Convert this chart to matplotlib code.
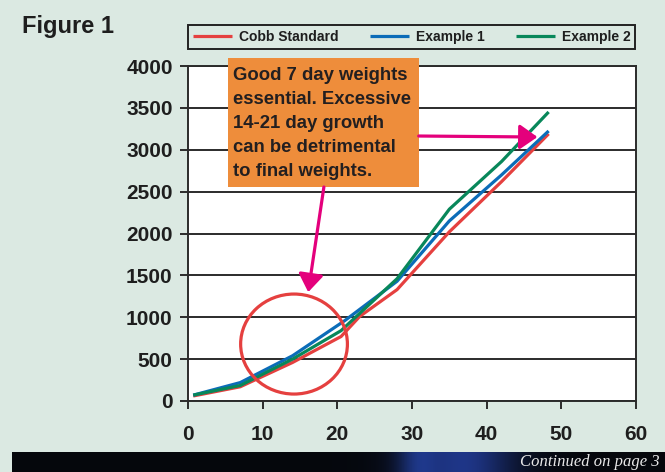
import numpy as np
import matplotlib
matplotlib.use("Agg")
import matplotlib.pyplot as plt
from matplotlib.patches import Ellipse, Rectangle, FancyArrowPatch

plt.rcParams['font.family'] = ['Liberation Sans', 'DejaVu Sans']

# ---- data ----
cobb_days = [0.7, 7, 14, 20.5, 23, 28, 35, 42, 48.3]
cobb_wt = [60, 170, 460, 770, 1010, 1330, 2020, 2620, 3190]
ex1_days = [0.7, 7, 14, 21, 28, 35, 42, 48.3]
ex1_wt = [70, 220, 540, 960, 1430, 2150, 2700, 3224]
ex2_days = [0.7, 7, 14, 20.5, 28, 35, 42, 48.3]
ex2_wt = [70, 185, 500, 840, 1460, 2290, 2860, 3451]
series_names = ["Cobb Standard", "Example 1", "Example 2"]
series_colors = ["#e5403f", "#0b6cb8", "#08875a"]
x_ticks = [0, 10, 20, 30, 40, 50, 60]
y_ticks = [0, 500, 1000, 1500, 2000, 2500, 3000, 3500, 4000]
note_lines = ["Good 7 day weights", "essential. Excessive", "14-21 day growth",
              "can be detrimental", "to final weights."]

BG = "#dbe9e2"
W, H = 665, 472
fig = plt.figure(figsize=(W / 100, H / 100), dpi=100, facecolor=BG)

def fx(px):
    return px / W

def fy(py):
    return 1 - py / H

ax = fig.add_axes([fx(188), fy(401), fx(636) - fx(188), fy(66) - fy(401)])
ax.set_facecolor("white")
ax.set_xlim(0, 60)
ax.set_ylim(0, 4000)
ax.set_xticks(x_ticks)
ax.set_yticks(y_ticks)
ax.grid(axis='y', color="#2b2b2b", lw=1.4)
ax.set_axisbelow(True)
for s in ax.spines.values():
    s.set_color("#2b2b2b")
    s.set_linewidth(1.4)
ax.tick_params(direction='out', length=6, width=1.4, color="#2b2b2b",
               labelsize=15, labelcolor="#1e1e1e")
ax.tick_params(axis='x', pad=11)
ax.tick_params(axis='y', pad=5)
for lab in ax.get_xticklabels() + ax.get_yticklabels():
    lab.set_fontweight('bold')

lines = []
for d, w, name, c in zip([cobb_days, ex1_days, ex2_days], [cobb_wt, ex1_wt, ex2_wt],
                         series_names, series_colors):
    ln, = ax.plot(d, w, color=c, lw=2.3, label=name, solid_capstyle='butt', zorder=3)
    lines.append(ln)

# circle highlight
ax.add_patch(Ellipse((14.2, 680), 14.3, 1194, fill=False, edgecolor="#e5403f",
                     lw=2.3, zorder=4, clip_on=False))

# orange note box
ax.add_patch(Rectangle((5.35, 2555), 30.9 - 5.35, 4096 - 2555, facecolor="#ee8d3b",
                       edgecolor='none', zorder=5, clip_on=False))
line_y = [75, 99, 123, 148, 172]
for t, yy in zip(note_lines, line_y):
    fig.text(fx(233), fy(yy), t, fontsize=13.3, fontweight='bold', color="#231f20",
             ha='left', va='center', zorder=6)

# magenta arrows
MAG = "#e4007c"
for (p0, p1) in [((18.2, 2555), (16.1, 1300)), ((30.9, 3164), (46.8, 3152))]:
    a = FancyArrowPatch(p0, p1, arrowstyle='-|>,head_length=0.4,head_width=0.28',
                        mutation_scale=27, color=MAG, lw=2.3, zorder=6,
                        shrinkA=0, shrinkB=0, clip_on=False)
    ax.add_patch(a)

# legend
leg = fig.legend(handles=lines, loc='center', ncol=3, mode='expand',
                 bbox_to_anchor=(fx(188), fy(51), fx(635) - fx(188), fy(23) - fy(51)),
                 frameon=True, fancybox=False, facecolor=BG, edgecolor="#222222",
                 prop={'weight': 'bold', 'size': 10}, handlelength=2.8,
                 borderaxespad=0, borderpad=0.35, columnspacing=1.0, handletextpad=0.5)
leg.get_frame().set_linewidth(1.4)
leg.get_frame().set_alpha(None)
for t in leg.get_texts():
    t.set_color("#1e1e1e")

fig.text(fx(22), fy(27), "Figure 1", fontsize=17, fontweight='bold', color="#1e1e1e",
         ha='left', va='center')

# bottom dark band
bax = fig.add_axes([fx(12), 0, 1 - fx(12), fy(452)])
bax.set_axis_off()
xs = np.linspace(0, 1, 400)
base = np.array([0.02, 0.03, 0.05])
glow = np.exp(-((xs - 0.69) / 0.08) ** 2)[:, None] * np.array([0.10, 0.18, 0.48])
glow2 = np.exp(-((xs - 0.62) / 0.03) ** 2)[:, None] * np.array([0.05, 0.1, 0.25])
row = np.clip(base + glow + glow2, 0, 1)
img = np.repeat(row[None, :, :], 10, axis=0)
bax.imshow(img, aspect='auto', extent=[0, 1, 0, 1])
fig.text(fx(660), fy(462), "Continued on page 3", fontsize=12, style='italic',
         family=['Liberation Serif', 'DejaVu Serif'], color="#e8e8e8",
         ha='right', va='center')

fig.savefig("out.png", dpi=100, facecolor=BG)
